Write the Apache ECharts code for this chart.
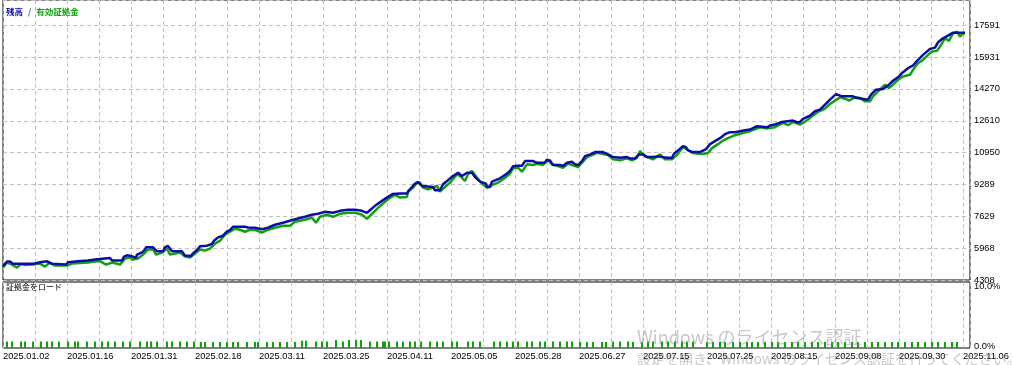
<!DOCTYPE html>
<html>
<head>
<meta charset="utf-8">
<script src="https://cdn.jsdelivr.net/npm/echarts@6/dist/echarts.min.js"></script>
<style>
html,body{margin:0;padding:0;background:#fff;}
#c{width:1013px;height:365px;}
</style>
</head>
<body>
<div id="c"></div>
<script>
// ---- data ----
const dateLabels = ['2025.01.02','2025.01.16','2025.01.31','2025.02.18','2025.03.11','2025.03.25','2025.04.11','2025.05.05','2025.05.28','2025.06.27','2025.07.15','2025.07.25','2025.08.15','2025.09.08','2025.09.30','2025.11.06'];
const yTickLabels = [4308, 5968, 7629, 9289, 10950, 12610, 14270, 15931, 17591];
const pctLabels = ['0.0%', '10.0%'];
const TRADE_STEP = 32;      // trades between vertical grid lines
const TRADE_MAX = 967;
const Y_STEP = 1660.4;

// balance: [trade number, value]
const balance = [[0,5009],[4,5268],[7,5268],[10,5149],[30,5149],[31,5200],[37,5232],[44,5284],[46,5320],[49,5149],[63,5112],[65,5232],[75,5284],[85,5320],[92,5372],[97,5408],[107,5460],[109,5320],[119,5320],[121,5527],[124,5595],[128,5564],[129,5460],[133,5460],[134,5631],[139,5751],[142,5891],[143,6010],[150,6010],[154,5802],[160,5802],[162,6010],[165,6083],[169,5802],[179,5802],[181,5699],[182,5579],[188,5564],[190,5699],[195,5927],[197,6062],[204,6098],[209,6186],[211,6358],[215,6529],[220,6617],[224,6840],[227,6913],[230,7084],[242,7084],[245,7048],[252,7032],[259,6954],[265,7032],[272,7188],[280,7292],[287,7395],[294,7499],[302,7603],[309,7707],[315,7759],[322,7862],[330,7811],[337,7914],[345,7966],[352,7966],[359,7914],[364,7811],[372,8174],[379,8433],[385,8641],[390,8796],[397,8812],[404,8812],[407,9040],[412,9331],[415,9419],[419,9212],[430,9160],[432,8988],[437,8988],[440,9300],[444,9471],[450,9731],[455,9902],[459,9731],[464,9902],[469,9902],[472,9679],[477,9435],[483,9331],[484,9160],[487,9160],[489,9435],[497,9611],[503,9819],[507,9990],[510,10234],[514,10265],[519,10265],[522,10509],[530,10509],[534,10421],[542,10421],[544,10561],[547,10545],[550,10301],[557,10301],[560,10249],[564,10421],[569,10473],[572,10338],[575,10301],[579,10509],[582,10768],[587,10857],[592,10976],[600,10976],[605,10857],[610,10716],[617,10680],[624,10716],[627,10649],[632,10649],[636,10857],[640,10857],[644,10716],[650,10716],[655,10753],[664,10680],[669,10680],[671,10888],[675,11064],[680,11287],[683,11235],[685,11064],[690,10976],[697,10976],[703,11131],[707,11391],[712,11547],[717,11702],[722,11910],[727,12014],[732,12014],[737,12066],[742,12117],[747,12154],[754,12325],[764,12273],[767,12361],[772,12413],[779,12548],[780,12621],[790,12621],[794,12533],[797,12548],[800,12704],[807,12880],[812,13104],[817,13192],[822,13451],[827,13710],[833,14001],[839,13882],[850,13882],[854,13793],[859,13762],[865,13710],[868,13970],[873,14229],[880,14261],[886,14489],[890,14696],[896,14919],[900,15143],[905,15350],[910,15490],[914,15734],[920,16045],[927,16357],[932,16424],[935,16699],[940,16907],[945,17047],[950,17203],[962,17203]];

// equity: [trade number, value]
const equity = [[0,4957],[4,5216],[9,5112],[14,4957],[18,5138],[22,5086],[30,5112],[37,5164],[42,5008],[47,5216],[52,5060],[57,5060],[64,5060],[69,5164],[77,5190],[85,5216],[92,5268],[97,5294],[103,5112],[109,5216],[117,5112],[122,5424],[127,5476],[130,5372],[135,5424],[140,5631],[145,5891],[150,5917],[153,5631],[159,5735],[164,5943],[167,5631],[172,5683],[177,5735],[182,5527],[187,5476],[192,5683],[197,5891],[202,5839],[207,5943],[212,6202],[217,6358],[222,6669],[227,6825],[232,6980],[237,6928],[242,6825],[247,6928],[253,6903],[259,6773],[265,6928],[272,7032],[280,7136],[287,7136],[292,7344],[302,7447],[309,7551],[313,7292],[317,7603],[324,7707],[330,7603],[337,7759],[345,7811],[352,7811],[359,7707],[364,7499],[369,7759],[375,8070],[382,8381],[387,8589],[392,8745],[397,8604],[404,8641],[405,8952],[410,9123],[414,9383],[417,9383],[420,9123],[425,9040],[434,9212],[437,8916],[439,8812],[442,9160],[447,9383],[450,9559],[454,9819],[457,9731],[462,9471],[465,9819],[469,9990],[475,9575],[479,9331],[484,9123],[489,9263],[495,9383],[502,9642],[507,9850],[510,10130],[515,10161],[519,9954],[524,10338],[530,10301],[534,10369],[540,10301],[544,10597],[549,10338],[555,10249],[560,10161],[565,10369],[570,10286],[575,10198],[580,10473],[584,10716],[589,10820],[594,10939],[599,10888],[605,10820],[610,10597],[617,10545],[624,10649],[629,10545],[634,10680],[637,11028],[642,10768],[650,10597],[657,10857],[662,10597],[669,10597],[674,10820],[677,11028],[680,11235],[684,11116],[689,10939],[695,10888],[700,10872],[705,10924],[709,11183],[715,11391],[719,11547],[725,11702],[732,11858],[739,11962],[747,12066],[757,12273],[764,12206],[772,12273],[780,12496],[785,12377],[790,12548],[797,12413],[800,12496],[805,12673],[809,12844],[815,13067],[822,13243],[827,13482],[832,13659],[837,13830],[842,13762],[846,13659],[852,13830],[857,13793],[862,13622],[867,13622],[870,13882],[875,14141],[882,14489],[886,14312],[890,14489],[895,14748],[900,14919],[907,15008],[910,15267],[915,15610],[920,15786],[925,16045],[929,16217],[934,16253],[937,16476],[942,16907],[946,16772],[950,17166],[954,17255],[957,16995],[960,17166],[962,17151]];

// margin load: trade number and percent
const loadTrade = [4,9,18,22,30,38,44,49,56,65,72,75,84,92,99,105,112,120,127,137,144,148,154,164,169,177,184,191,198,202,210,217,224,230,235,244,252,255,264,270,277,284,292,
299,303,313,319,324,333,340,346,353,358,367,374,380,382,386,394,400,407,412,418,427,434,440,449,454,465,470,477,491,497,504,510,515,524,529,537,542,550,557,564,569,577,584,590,599,603,610,617,625,630,639,645,650,659,665,672,679,684,690,
704,710,717,722,730,737,744,749,755,762,769,775,782,789,795,802,809,815,822,829,835,842,849,855,862,869,875,882,889,895,902,909,915,922,929,935,942,949,954];
const loadPct = [1.0,1.0,1.0,1.0,1.0,1.0,1.0,1.0,1.0,1.0,1.0,1.0,1.0,1.0,1.0,1.0,1.0,1.0,1.0,1.0,1.0,1.0,1.0,1.0,1.0,1.0,1.0,1.0,0.9,0.9,0.9,0.9,0.9,0.9,0.9,0.9,0.9,0.9,0.9,0.9,0.9,0.9,0.9,
1.1,1.1,1.0,1.0,1.0,1.2,1.0,1.2,1.2,1.2,1.0,1.0,1.0,1.0,1.0,1.0,1.0,1.0,1.0,1.0,1.0,1.0,1.0,1.0,1.0,1.0,1.0,1.0,1.0,1.0,1.0,1.0,1.0,1.0,1.0,1.0,1.0,1.0,1.0,1.0,1.0,0.9,0.9,0.9,0.9,0.9,1.0,1.0,1.0,0.9,0.9,1.0,1.0,1.0,1.0,1.0,1.0,1.0,1.0,
0.9,0.9,0.9,0.9,0.9,0.9,0.9,0.9,0.9,0.9,0.9,0.9,0.9,0.9,0.9,0.9,0.9,0.9,0.9,0.9,0.9,0.9,0.9,0.9,0.9,0.9,0.9,0.9,0.9,0.9,0.9,0.9,0.9,0.9,0.9,0.9,0.9,0.9,0.9];

// ---- chart ----
const Y_BASE = yTickLabels[0];
const shift = arr => arr.map(p => [p[0], p[1] - Y_BASE]);
const FONT = "'Liberation Sans', Arial, sans-serif";
const FS = 9.3;
const dash = {color: '#c0c0c0', width: 1, type: [4, 3]};

const chart = echarts.init(document.getElementById('c'), null, {renderer: 'canvas'});
chart.setOption({
  animation: false,
  backgroundColor: '#fff',
  title: [
    {left: 6, top: 3, padding: 0, text: '{b|残高} {s|/} {g|有効証拠金}',
     textStyle: {rich: {
       b: {color: '#0c0ca6', fontSize: 8.5, fontFamily: 'Noto Sans CJK JP'},
       s: {color: '#2a7a8a', fontSize: 8.5, fontFamily: 'Noto Sans CJK JP'},
       g: {color: '#0ea30e', fontSize: 8.5, fontFamily: 'Noto Sans CJK JP'}}}},
    {left: 6, top: 283, padding: 0, text: '証拠金をロード',
     textStyle: {color: '#000', fontSize: 8, fontWeight: 'normal', fontFamily: 'Noto Sans CJK JP'}}
  ],
  grid: [
    {left: 3, right: 43, top: -3, height: 283, show: true, borderColor: '#000', borderWidth: 1, backgroundColor: '#fff'},
    {left: 3, right: 43, top: 282, height: 66, show: true, borderColor: '#000', borderWidth: 1, backgroundColor: '#fff'}
  ],
  xAxis: [
    {gridIndex: 0, type: 'value', min: 0, max: TRADE_MAX, interval: TRADE_STEP,
     axisLine: {show: false}, axisTick: {show: false}, axisLabel: {show: false},
     splitLine: {show: true, lineStyle: dash}},
    {gridIndex: 1, type: 'value', min: 0, max: TRADE_MAX, interval: TRADE_STEP,
     axisLine: {show: false}, axisTick: {show: false},
     splitLine: {show: true, lineStyle: dash},
     axisLabel: {show: true, margin: 4, align: 'left', color: '#000', fontSize: FS, fontFamily: FONT,
       formatter: v => (v % (2 * TRADE_STEP) === 0 && dateLabels[v / (2 * TRADE_STEP)]) ? dateLabels[v / (2 * TRADE_STEP)] : ''}}
  ],
  yAxis: [
    {gridIndex: 0, type: 'value', position: 'right', min: 0, max: 14598, interval: Y_STEP,
     axisLine: {show: false}, axisTick: {show: false},
     splitLine: {show: true, lineStyle: dash},
     axisLabel: {show: true, margin: 4, color: '#000', fontSize: FS, fontFamily: FONT,
       formatter: v => {
         const k = v / Y_STEP, r = Math.round(k);
         return (Math.abs(k - r) < 1e-6 && yTickLabels[r] !== undefined) ? String(yTickLabels[r]) : '';
       }}},
    {gridIndex: 1, type: 'value', position: 'right', min: 0, max: 10, interval: 10,
     axisLine: {show: false}, axisTick: {show: false}, splitLine: {show: false},
     axisLabel: {show: true, margin: 4, color: '#000', fontSize: FS, fontFamily: FONT,
       formatter: v => v >= 10 ? '{t|' + pctLabels[1] + '}' : '{b|' + pctLabels[0] + '}',
       rich: {
         t: {padding: [9, 0, 0, 0], fontSize: FS, fontFamily: FONT, color: '#000'},
         b: {padding: [0, 0, 3, 0], fontSize: FS, fontFamily: FONT, color: '#000'}}}}
  ],
  series: [
    {name: '有効証拠金', type: 'line', xAxisIndex: 0, yAxisIndex: 0, data: shift(equity),
     symbol: 'none', lineStyle: {color: '#0ea30e', width: 2.5}, itemStyle: {color: '#0ea30e'}, z: 2},
    {name: '残高', type: 'line', xAxisIndex: 0, yAxisIndex: 0, data: shift(balance),
     symbol: 'none', lineStyle: {color: '#0c0ca6', width: 2.5}, itemStyle: {color: '#0c0ca6'}, z: 3},
    {name: '証拠金をロード', type: 'bar', xAxisIndex: 1, yAxisIndex: 1,
     data: loadTrade.map((t, i) => [t, loadPct[i]]), barWidth: 2,
     itemStyle: {color: '#0ea30e'}}
  ],
  graphic: [
    {type: 'text', left: 637, top: 328, z: 100, silent: true,
     style: {text: 'Windows のライセンス認証', font: '18px "Noto Sans CJK JP"', fill: 'rgba(130,130,130,0.45)'}},
    {type: 'text', left: 637, top: 352, z: 100, silent: true,
     style: {text: '設定を開き、Windows のライセンス認証を行ってください。', font: '14px "Noto Sans CJK JP"', fill: 'rgba(130,130,130,0.45)'}}
  ]
});
</script>
</body>
</html>
